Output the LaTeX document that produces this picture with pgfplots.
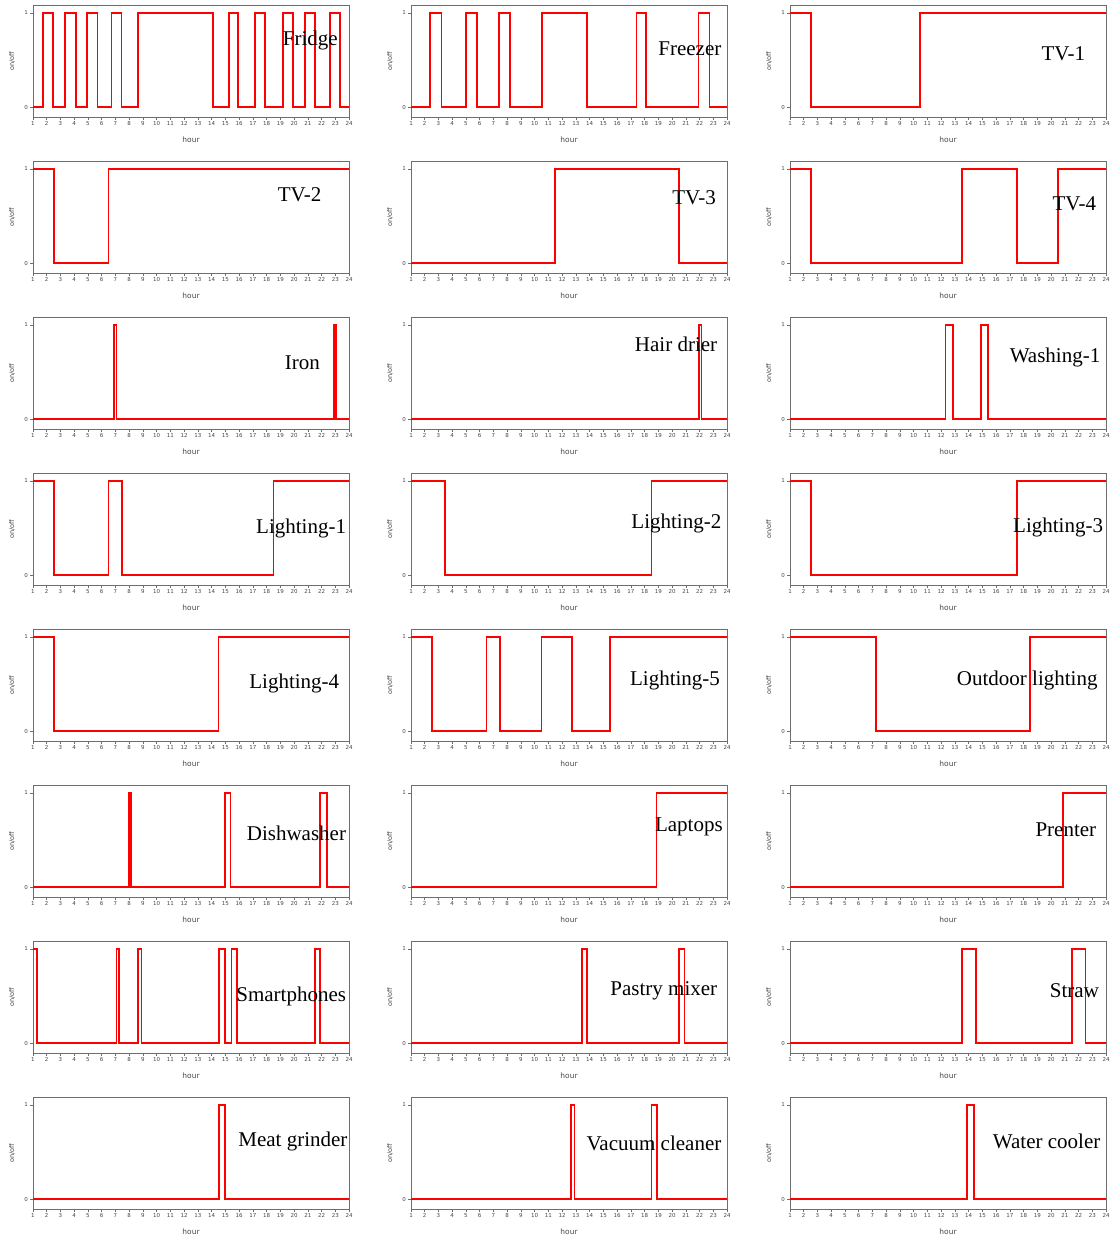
\documentclass[border=0pt]{standalone}
\usepackage{fontspec}
\setmainfont{Liberation Serif}
\newfontfamily\tk{DejaVu Sans}
\usepackage{pgfplots}
\pgfplotsset{compat=1.18}
\definecolor{axgray}{RGB}{110,110,110}
\definecolor{lblgray}{RGB}{70,70,70}
\pgfplotsset{panel/.style={
  width=316pt, height=112pt, scale only axis, anchor=south west,
  xmin=1, xmax=24, ymin=-0.106, ymax=1.085,
  xtick={1,...,24}, ytick={0,1},
  tick align=outside, xtick pos=lower, ytick pos=left,
  major tick length=3pt,
  tick style={axgray, line width=0.5pt},
  axis line style={axgray, line width=0.9pt},
  /pgf/number format/assume math mode=true,
  tick label style={font=\tk\fontsize{5.5}{6}\selectfont, text=lblgray},
  xticklabel style={inner sep=1.5pt},
  yticklabel style={inner sep=2pt},
  xlabel={hour}, ylabel={on/off},
  xlabel style={font=\tk\fontsize{7.5}{8}\selectfont, text=lblgray, at={(axis description cs:0.5,0)}, anchor=center, yshift=-23pt},
  ylabel style={font=\tk\fontsize{6.5}{7}\selectfont, text=lblgray, at={(axis description cs:0,0.5)}, anchor=center, rotate=0},
}}
\newcommand{\panel}[6]{%
\begin{axis}[panel, at={(#1pt,#2pt)}, ylabel style={yshift=21pt}]
\addplot[draw=red, line width=1.8pt, const plot, mark=none, line join=miter] coordinates {#3};
\node[anchor=east, inner sep=0pt, font=\fontsize{21}{21}\selectfont] at (axis cs:#5,#6) {#4};
\end{axis}}
\begin{document}
\begin{tikzpicture}
\useasboundingbox (0,0) rectangle (1119pt,1239pt);
% row 1
\panel{33}{1122}{(1,0) (1.75,1) (2.46,0) (3.33,1) (4.11,0) (4.91,1) (5.69,0) (6.71,1) (7.44,0) (8.66,1) (14.1,0) (15.25,1) (15.9,0) (17.17,1) (17.9,0) (19.19,1) (19.92,0) (20.77,1) (21.5,0) (22.59,1) (23.32,0) (24,0)}{Fridge}{23.2}{0.71}
\panel{411}{1122}{(1,0) (2.41,1) (3.22,0) (5.02,1) (5.83,0) (7.41,1) (8.22,0) (10.51,1) (13.8,0) (17.41,1) (18.1,0) (21.93,1) (22.73,0) (24,0)}{Freezer}{23.6}{0.62}
\panel{790}{1122}{(1,1) (2.5,0) (10.45,1) (24,1)}{TV-1}{22.5}{0.57}
% row 2
\panel{33}{966}{(1,1) (2.55,0) (6.5,1) (24,1)}{TV-2}{22.0}{0.73}
\panel{411}{966}{(1,0) (11.5,1) (20.5,0) (24,0)}{TV-3}{23.2}{0.69}
\panel{790}{966}{(1,1) (2.5,0) (13.5,1) (17.5,0) (20.5,1) (24,1)}{TV-4}{23.3}{0.63}
% row 3
\panel{33}{810}{(1,0) (6.9,1) (7.08,0) (22.9,1) (23.07,0) (24,0)}{Iron}{21.9}{0.60}
\panel{411}{810}{(1,0) (21.95,1) (22.15,0) (24,0)}{Hair drier}{23.3}{0.79}
\panel{790}{810}{(1,0) (12.31,1) (12.89,0) (14.93,1) (15.42,0) (24,0)}{Washing-1}{23.6}{0.65}
% row 4
\panel{33}{654}{(1,1) (2.55,0) (6.5,1) (7.5,0) (18.5,1) (24,1)}{Lighting-1}{23.8}{0.50}
\panel{411}{654}{(1,1) (3.5,0) (18.5,1) (24,1)}{Lighting-2}{23.6}{0.55}
\panel{790}{654}{(1,1) (2.55,0) (17.5,1) (24,1)}{Lighting-3}{23.8}{0.51}
% row 5
\panel{33}{498}{(1,1) (2.55,0) (14.5,1) (24,1)}{Lighting-4}{23.3}{0.51}
\panel{411}{498}{(1,1) (2.55,0) (6.5,1) (7.5,0) (10.5,1) (12.7,0) (15.5,1) (24,1)}{Lighting-5}{23.5}{0.54}
\panel{790}{498}{(1,1) (7.25,0) (18.45,1) (24,1)}{Outdoor lighting}{23.4}{0.54}
% row 6
\panel{33}{342}{(1,0) (7.97,1) (8.12,0) (15.0,1) (15.37,0) (21.87,1) (22.4,0) (24,0)}{Dishwasher}{23.8}{0.57}
\panel{411}{342}{(1,0) (18.87,1) (24,1)}{Laptops}{23.7}{0.64}
\panel{790}{342}{(1,0) (20.87,1) (24,1)}{Prenter}{23.3}{0.61}
% row 7
\panel{33}{186}{(1,1) (1.27,0) (7.08,1) (7.28,0) (8.66,1) (8.9,0) (14.53,1) (15.0,0) (15.45,1) (15.86,0) (21.5,1) (21.9,0) (24,0)}{Smartphones}{23.8}{0.50}
\panel{411}{186}{(1,0) (13.47,1) (13.8,0) (20.5,1) (20.9,0) (24,0)}{Pastry mixer}{23.3}{0.55}
\panel{790}{186}{(1,0) (13.5,1) (14.54,0) (21.5,1) (22.5,0) (24,0)}{Straw}{23.5}{0.56}
% row 8
\panel{33}{30}{(1,0) (14.53,1) (15.0,0) (24,0)}{Meat grinder}{23.9}{0.61}
\panel{411}{30}{(1,0) (12.67,1) (12.9,0) (18.5,1) (18.9,0) (24,0)}{Vacuum cleaner}{23.6}{0.59}
\panel{790}{30}{(1,0) (13.86,1) (14.4,0) (24,0)}{Water cooler}{23.6}{0.61}
\end{tikzpicture}
\end{document}
